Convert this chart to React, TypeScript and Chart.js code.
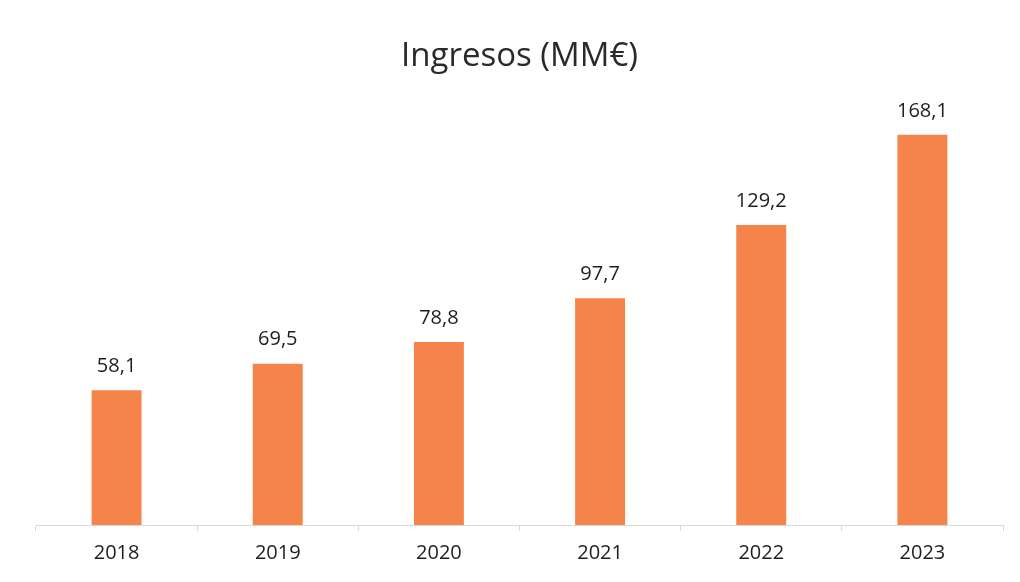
import React, { useEffect, useRef } from "react";
import { Chart, registerables } from "chart.js";

Chart.register(...registerables);

const categories = ["2018", "2019", "2020", "2021", "2022", "2023"];
const values = [58.1, 69.5, 78.8, 97.7, 129.2, 168.1];
const titleText = "Ingresos (MM€)";

const FONT = "'Open Sans', 'Noto Sans', sans-serif";

const valueLabels = {
  id: "valueLabels",
  afterDatasetsDraw(chart: any) {
    const ctx = chart.ctx;
    const meta = chart.getDatasetMeta(0);
    ctx.save();
    ctx.font = `20px ${FONT}`;
    ctx.fillStyle = "#1e1e1e";
    ctx.textAlign = "center";
    ctx.textBaseline = "bottom";
    meta.data.forEach((bar: any, i: number) => {
      const txt = values[i].toFixed(1).replace(".", ",");
      ctx.fillText(txt, bar.x, bar.y - 14);
    });
    ctx.restore();
  },
};

export default function App() {
  const ref = useRef<HTMLCanvasElement>(null);
  useEffect(() => {
    const chart = new Chart(ref.current!, {
      type: "bar",
      data: {
        labels: categories,
        datasets: [
          {
            data: values,
            backgroundColor: "#F5844A",
            categoryPercentage: 1,
            barPercentage: 0.31,
          },
        ],
      },
      options: {
        animation: false,
        responsive: false,
        maintainAspectRatio: false,
        layout: { padding: { left: 36, right: 17, top: 0, bottom: 7 } },
        plugins: {
          legend: { display: false },
          tooltip: { enabled: false },
          title: {
            display: true,
            text: titleText,
            color: "#2a2a2a",
            font: { family: FONT, size: 33, weight: "normal" },
            padding: { top: 37, bottom: 19 },
          },
        },
        scales: {
          x: {
            grid: {
              display: true,
              drawOnChartArea: false,
              drawTicks: true,
              tickLength: 6,
              color: "#d9d9d9",
              offset: true,
            },
            border: { display: true, color: "#d9d9d9", width: 1 },
            ticks: {
              color: "#1e1e1e",
              font: { family: FONT, size: 20 },
              padding: 10,
            },
          },
          y: {
            display: false,
            min: 0,
            max: 185,
          },
        },
      },
      plugins: [valueLabels],
    });
    return () => chart.destroy();
  }, []);
  return (
    <div style={{ position: "fixed", left: 0, top: 0, width: 1020, height: 582, background: "#fff" }}>
      <canvas ref={ref} width={1020} height={582} style={{ width: 1020, height: 582 }} />
    </div>
  );
}
